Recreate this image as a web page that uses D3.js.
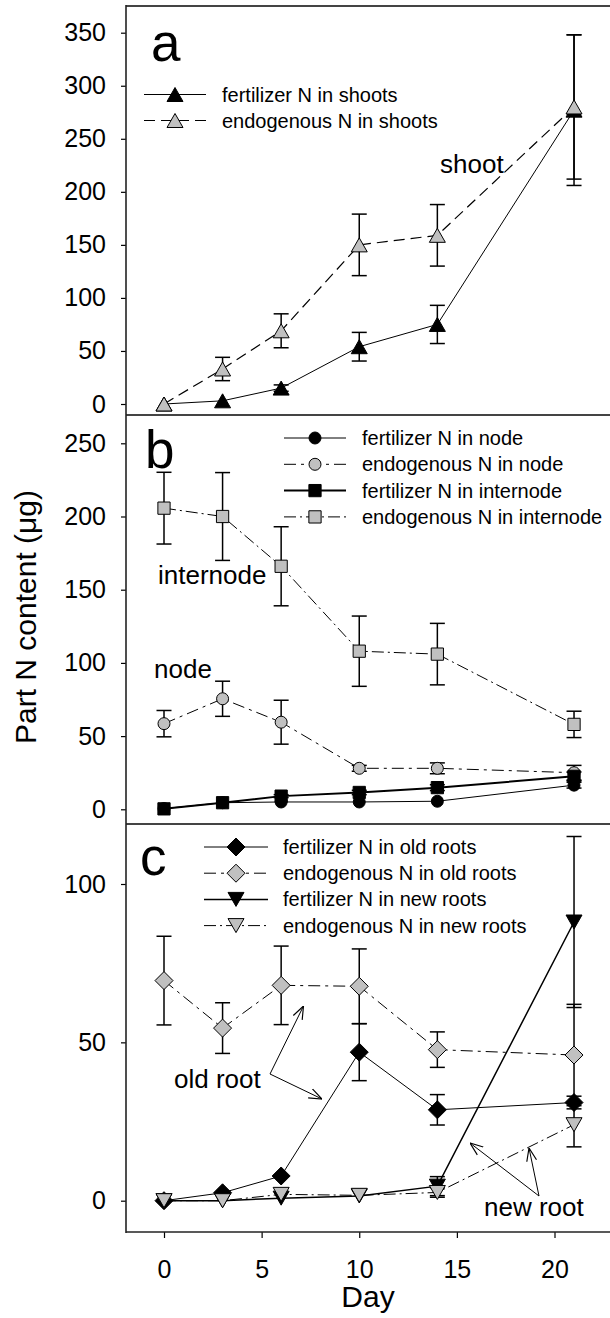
<!DOCTYPE html>
<html><head><meta charset="utf-8">
<script src="https://cdn.jsdelivr.net/npm/d3@7"></script>
<style>
html,body{margin:0;padding:0;background:#fff;}
svg{display:block;font-family:"Liberation Sans",Arial,sans-serif;}
</style></head>
<body>
<svg id="chart" width="610" height="1318"></svg>
<script>
// ---------- data ----------
const days = [0, 3, 6, 10, 14, 21];
const xTicks = [0, 5, 10, 15, 20];

// panel a
const shootFert = [0, 3, 15, 54, 75, 277];
const shootFertErr = [0, 0, 3, 13.5, 18, 71];
const shootEndo = [0, 33, 69, 150, 159, 280];
const shootEndoErr = [0, 11, 16, 29, 29, 68];
const ticksA = [0, 50, 100, 150, 200, 250, 300, 350];

// panel b
const nodeFert = [0.5, 4.5, 5, 5, 5.5, 16.5];
const nodeFertErr = [0, 0, 0, 0, 0, 2];
const nodeEndo = [58.5, 75.5, 59.5, 28, 28, 25];
const nodeEndoErr = [9, 12, 15, 2, 3.7, 5];
const interFert = [0.3, 4.5, 9, 11.5, 14.8, 22.5];
const interFertErr = [0, 0, 1, 1.5, 2, 3];
const interEndo = [205.7, 200, 166, 108, 106, 58];
const interEndoErr = [24.5, 30, 27, 24, 21, 9];
const ticksB = [0, 50, 100, 150, 200, 250];

// panel c
const oldFert = [0, 2.5, 7.8, 46.9, 28.7, 31];
const oldFertErr = [0, 0, 0, 9, 4.8, 2];
const oldEndo = [69.5, 54.5, 68, 67.7, 47.7, 46];
const oldEndoErr = [14, 8, 12.4, 11.8, 5.6, 16];
const newFert = [0, 0, 0.8, 1.5, 4.6, 88];
const newFertErr = [0, 0, 0, 0, 3, 27];
const newEndo = [0, 0, 2, 1.7, 2.6, 24];
const newEndoErr = [0, 0, 0, 0, 1.5, 7];
const ticksC = [0, 50, 100];

// ---------- layout ----------
const svg = d3.select("#chart");
const LEFT = 126, RIGHT = 610;
const x = d3.scaleLinear().domain([0, 20]).range([164, 554.5]);
const GREY = "#c0c0c0";
const FONT_TICK = 25, FONT_ANN = 26, FONT_LEG = 20;

// symbol paths (bbox-centred)
function triUp(w, h){ return `M0,${-h/2}L${w/2},${h/2}L${-w/2},${h/2}Z`; }
function triDown(w, h){ return `M0,${h/2}L${w/2},${-h/2}L${-w/2},${-h/2}Z`; }
const SYM = {
  triUp: triUp(16, 14),
  triDown: triDown(16, 14),
  circle: d3.symbol(d3.symbolCircle, 113)(),
  square: d3.symbol(d3.symbolSquare, 150)(),
  diamond: "M0,-9L9,0L0,9L-9,0Z"
};

svg.append("defs").append("marker")
  .attr("id", "arr").attr("viewBox", "0 0 10 10")
  .attr("refX", 10).attr("refY", 5)
  .attr("markerWidth", 13).attr("markerHeight", 13)
  .attr("markerUnits", "userSpaceOnUse").attr("orient", "auto")
  .append("path").attr("d", "M0,1.2L10,5L0,8.8")
  .attr("fill", "none").attr("stroke", "#000").attr("stroke-width", 0.9);

function drawPanel(cfg){
  const y = d3.scaleLinear().domain(cfg.domain).range(cfg.range);
  const g = svg.append("g");
  // y axis
  const ax = g.append("g").attr("transform", `translate(${LEFT},0)`)
    .call(d3.axisLeft(y).tickValues(cfg.ticks).tickSize(5).tickPadding(15).tickFormat(d3.format("d")));
  ax.select(".domain").remove();
  ax.selectAll("text").attr("font-size", FONT_TICK).attr("font-family", "Liberation Sans, Arial, sans-serif").attr("fill", "#000");
  ax.selectAll("line").attr("stroke", "#000").attr("stroke-width", 1.2);

  const line = d3.line().x((d, i) => x(days[i])).y(d => y(d));
  // lines
  cfg.series.forEach(s => {
    g.append("path").attr("d", line(s.vals))
      .attr("fill", "none").attr("stroke", "#000")
      .attr("stroke-width", s.lw).attr("stroke-dasharray", s.dash || null);
  });
  // error bars
  cfg.series.forEach(s => {
    s.vals.forEach((v, i) => {
      const e = s.err[i];
      if (!e) return;
      const cx = x(days[i]);
      const eg = g.append("g").attr("stroke", "#000").attr("stroke-width", 1.5);
      eg.append("line").attr("x1", cx).attr("x2", cx).attr("y1", y(v - e)).attr("y2", y(v + e));
      [v - e, v + e].forEach(t => eg.append("line").attr("x1", cx - 7.5).attr("x2", cx + 7.5).attr("y1", y(t)).attr("y2", y(t)));
    });
  });
  // markers
  cfg.series.forEach(s => {
    g.selectAll(null).data(s.vals).join("path")
      .attr("d", SYM[s.sym])
      .attr("transform", (d, i) => `translate(${x(days[i])},${y(d)})`)
      .attr("fill", s.fill).attr("stroke", "#000").attr("stroke-width", 1);
  });
  // legend
  cfg.series.forEach((s, k) => {
    const ly = cfg.leg.y0 + k * cfg.leg.dy;
    g.append("line").attr("x1", cfg.leg.x1).attr("x2", cfg.leg.x2).attr("y1", ly).attr("y2", ly)
      .attr("stroke", "#000").attr("stroke-width", s.lw).attr("stroke-dasharray", s.dash || null);
    g.append("path").attr("d", SYM[s.sym]).attr("transform", `translate(${(cfg.leg.x1 + cfg.leg.x2) / 2},${ly})`)
      .attr("fill", s.fill).attr("stroke", "#000").attr("stroke-width", 1);
    g.append("text").attr("x", cfg.leg.tx).attr("y", ly).attr("dy", "0.35em")
      .attr("font-size", FONT_LEG).text(s.name);
  });
  // panel letter
  g.append("text").attr("x", cfg.letter.x).attr("y", cfg.letter.y)
    .attr("font-size", 53).text(cfg.letter.t);
  // separator line at top
  g.append("line").attr("x1", LEFT).attr("x2", RIGHT).attr("y1", cfg.top).attr("y2", cfg.top)
    .attr("stroke", "#444").attr("stroke-width", 2);
  return {g, y};
}

// panel a
const pa = drawPanel({
  domain: [0, 350], range: [404, 32.7], ticks: ticksA, top: 6,
  letter: {t: "a", x: 151, y: 61},
  leg: {x1: 144, x2: 206, tx: 222, y0: 94.5, dy: 26},
  series: [
    {name: "fertilizer N in shoots", vals: shootFert, err: shootFertErr, sym: "triUp", fill: "#000", lw: 1},
    {name: "endogenous N in shoots", vals: shootEndo, err: shootEndoErr, sym: "triUp", fill: GREY, lw: 1.2, dash: "11,6"}
  ]
});
pa.g.append("text").attr("x", 440).attr("y", 173).attr("font-size", FONT_ANN).text("shoot");

// panel b
const pb = drawPanel({
  domain: [0, 250], range: [809.3, 443.3], ticks: ticksB, top: 415,
  letter: {t: "b", x: 145, y: 468},
  leg: {x1: 284, x2: 346, tx: 362, y0: 438, dy: 26.3},
  series: [
    {name: "fertilizer N in node", vals: nodeFert, err: nodeFertErr, sym: "circle", fill: "#000", lw: 1},
    {name: "endogenous N in node", vals: nodeEndo, err: nodeEndoErr, sym: "circle", fill: GREY, lw: 1, dash: "12,5,3,5"},
    {name: "fertilizer N in internode", vals: interFert, err: interFertErr, sym: "square", fill: "#000", lw: 2},
    {name: "endogenous N in internode", vals: interEndo, err: interEndoErr, sym: "square", fill: GREY, lw: 1, dash: "12,4,2,4"}
  ]
});
pb.g.append("text").attr("x", 158).attr("y", 584).attr("font-size", FONT_ANN).text("internode");
pb.g.append("text").attr("x", 154).attr("y", 678).attr("font-size", FONT_ANN).text("node");

// panel c
const pc = drawPanel({
  domain: [0, 100], range: [1200.7, 884], ticks: ticksC, top: 824,
  letter: {t: "c", x: 140, y: 875},
  leg: {x1: 204, x2: 268, tx: 283, y0: 847, dy: 26.2},
  series: [
    {name: "fertilizer N in old roots", vals: oldFert, err: oldFertErr, sym: "diamond", fill: "#000", lw: 1},
    {name: "endogenous N in old roots", vals: oldEndo, err: oldEndoErr, sym: "diamond", fill: GREY, lw: 1, dash: "12,5,3,5"},
    {name: "fertilizer N in new roots", vals: newFert, err: newFertErr, sym: "triDown", fill: "#000", lw: 1.5},
    {name: "endogenous N in new roots", vals: newEndo, err: newEndoErr, sym: "triDown", fill: GREY, lw: 1, dash: "12,4,2,4"}
  ]
});
pc.g.append("text").attr("x", 174).attr("y", 1088).attr("font-size", FONT_ANN).text("old root");
pc.g.append("text").attr("x", 484).attr("y", 1216).attr("font-size", FONT_ANN).text("new root");
const arrows = [
  [[270, 1074], [303.5, 1006]],
  [[270, 1074], [322, 1099]],
  [[539, 1196], [470, 1143]],
  [[539, 1196], [529, 1148]]
];
arrows.forEach(a => {
  pc.g.append("line").attr("x1", a[0][0]).attr("y1", a[0][1]).attr("x2", a[1][0]).attr("y2", a[1][1])
    .attr("stroke", "#000").attr("stroke-width", 1).attr("marker-end", "url(#arr)");
});

// left axis line spanning all panels
svg.append("line").attr("x1", LEFT).attr("x2", LEFT).attr("y1", 5).attr("y2", 1233)
  .attr("stroke", "#222").attr("stroke-width", 1.6);

// bottom x axis
const xa = svg.append("g").attr("transform", "translate(0,1232)")
  .call(d3.axisBottom(x).tickValues(xTicks).tickSize(6).tickPadding(22).tickFormat(d3.format("d")));
xa.select(".domain").remove();
xa.selectAll("text").attr("font-size", FONT_TICK).attr("font-family", "Liberation Sans, Arial, sans-serif").attr("fill", "#000");
xa.selectAll("line").attr("stroke", "#000").attr("stroke-width", 1.2);
svg.append("line").attr("x1", LEFT).attr("x2", RIGHT).attr("y1", 1232).attr("y2", 1232)
  .attr("stroke", "#222").attr("stroke-width", 1.6);

// axis titles
svg.append("text").attr("x", 368).attr("y", 1307).attr("text-anchor", "middle")
  .attr("font-size", 30).text("Day");
svg.append("text").attr("transform", "translate(36,617) rotate(-90)").attr("text-anchor", "middle")
  .attr("font-size", 30).text("Part N content (\u03bcg)");
</script>
</body></html>
